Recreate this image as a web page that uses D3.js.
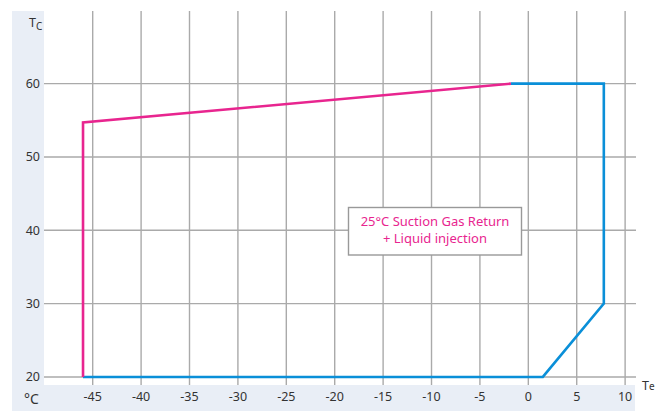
<!DOCTYPE html>
<html><head><meta charset="utf-8">
<script src="https://cdn.jsdelivr.net/npm/d3@7"></script>
<style>body{margin:0;background:#fff}svg{display:block}text{font-family:"Noto Sans",sans-serif}</style>
</head><body><svg id="c" width="664" height="411"></svg>
<script>
const xTicks = [-45,-40,-35,-30,-25,-20,-15,-10,-5,0,5,10];
const yTicks = [20,30,40,50,60];
const pinkTe = [-46.0,-46.0,-1.8];
const pinkTc = [20,54.7,60];
const blueTe = [-46.0,1.5,7.8,7.8,-1.8];
const blueTc = [20,20,30,60,60];
const noteLines = ["25°C Suction Gas Return","+ Liquid injection"];

const svg = d3.select("#c");
const x = d3.scaleLinear().domain([-50,11]).range([44.3,634.8]);
const y = d3.scaleLinear().domain([18.9,69.9]).range([385,11]);

// background panels
svg.append("rect").attr("x",12).attr("y",11).attr("width",32).attr("height",400).attr("fill","#e9eef6");
svg.append("rect").attr("x",12).attr("y",385).attr("width",623).attr("height",26).attr("fill","#e9eef6");

const grid = svg.append("g").attr("stroke","#aaaaaa").attr("stroke-width",1.4);
grid.selectAll("line.v").data(xTicks).join("line").attr("class","v")
  .attr("x1",d=>x(d)).attr("x2",d=>x(d)).attr("y1",11).attr("y2",385);
grid.selectAll("line.h").data(yTicks).join("line").attr("class","h")
  .attr("x1",44).attr("x2",636).attr("y1",d=>y(d)).attr("y2",d=>y(d));

// tick labels
svg.append("g").selectAll("text").data(xTicks).join("text")
  .attr("x",d=>x(d)).attr("y",401).attr("text-anchor","middle")
  .attr("font-size",12.5).attr("fill","#333").text(d=>d);
svg.append("g").selectAll("text").data(yTicks).join("text")
  .attr("x",40).attr("y",d=>y(d)+4.5).attr("text-anchor","end")
  .attr("font-size",12.5).attr("fill","#333").text(d=>d);

// axis names
const tc = svg.append("text").attr("x",29).attr("y",27).attr("font-size",12.5).attr("fill","#333");
tc.append("tspan").text("T");
tc.append("tspan").attr("font-size",10).attr("dy",3).text("C");
svg.append("text").attr("x",24).attr("y",404).attr("font-size",14).attr("fill","#333").text("°C");
const te = svg.append("text").attr("x",642).attr("y",390).attr("font-size",12.5).attr("fill","#333");
te.append("tspan").text("T");
te.append("tspan").attr("font-size",10).text("e");

const line = d3.line().x(d=>x(d[0])).y(d=>y(d[1]));
svg.append("path").datum(blueTe.map((v,i)=>[v,blueTc[i]]))
  .attr("d",line).attr("fill","none").attr("stroke","#0a8fd8").attr("stroke-width",2.6);
svg.append("path").datum(pinkTe.map((v,i)=>[v,pinkTc[i]]))
  .attr("d",line).attr("fill","none").attr("stroke","#e8258f").attr("stroke-width",2.6);

// annotation
svg.append("rect").attr("x",348.5).attr("y",207.5).attr("width",173).attr("height",47.5)
  .attr("fill","#fff").attr("stroke","#999").attr("stroke-width",1.4);
svg.append("g").selectAll("text").data(noteLines).join("text")
  .attr("x",435).attr("y",(d,i)=>225.5+i*17.8).attr("text-anchor","middle")
  .attr("font-size",13).attr("fill","#e8258f").text(d=>d);
</script></body></html>
